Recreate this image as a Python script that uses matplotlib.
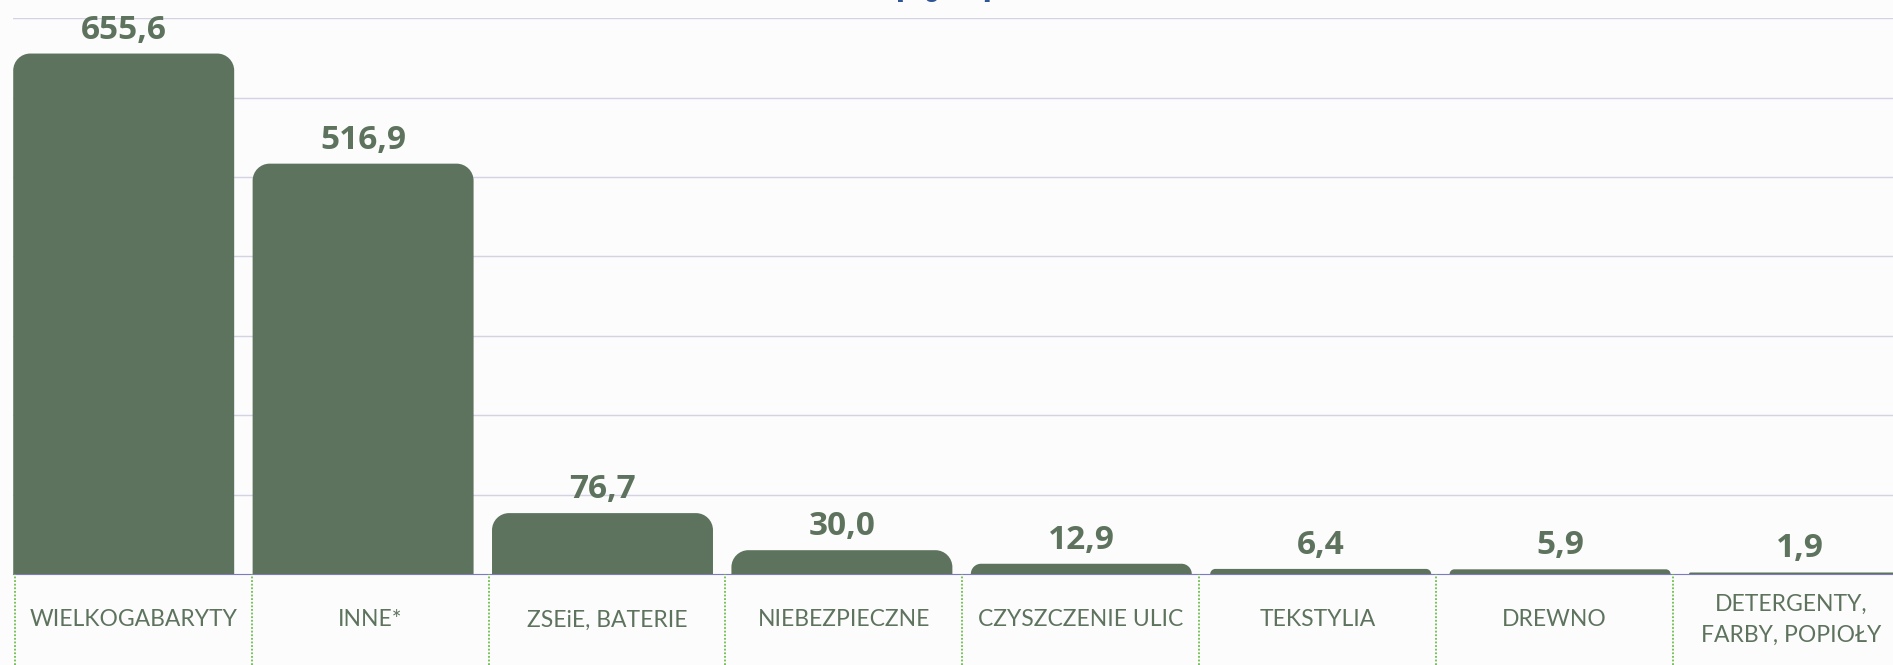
import numpy as np
import matplotlib
matplotlib.use("Agg")
import matplotlib.pyplot as plt
from matplotlib.path import Path
from matplotlib.patches import PathPatch

categories = ["WIELKOGABARYTY", "INNE*", "ZSEiE, BATERIE", "NIEBEZPIECZNE",
              "CZYSZCZENIE ULIC", "TEKSTYLIA", "DREWNO", "DETERGENTY,\nFARBY, POPIOŁY"]
values = [655.6, 516.9, 76.7, 30.0, 12.9, 6.4, 5.9, 1.9]
title = "[Mg/rok]"

green = "#5E735E"
grid_col = "#D3D3E3"
bg = "#FCFCFC"

W, H, DPI = 1893, 665, 100
plt.rcParams['font.family'] = ['Lato', 'DejaVu Sans']

fig = plt.figure(figsize=(W / DPI, H / DPI), dpi=DPI, facecolor=bg)

## main chart axes, placed in pixel terms
ax_left, ax_top, ax_bottom = 13.3, 18.3, 574.0
ax = fig.add_axes([ax_left / W, (H - ax_bottom) / H, 1 - ax_left / W, (ax_bottom - ax_top) / H])
ax.set_facecolor(bg)
ax.set_ylim(0, 700)
ax.set_xlim((ax_left - 123.7) / 239.4, (W - 123.7) / 239.4)
ax.set_yticks(np.arange(100, 701, 100))
ax.yaxis.grid(True, color=grid_col, lw=1.0)
ax.set_axisbelow(True)
ax.set_xticks([])
ax.tick_params(left=False, labelleft=False)
for s in ["left", "right", "top"]:
    ax.spines[s].set_visible(False)
ax.spines["bottom"].set_color("#7B7BC0")
ax.spines["bottom"].set_linewidth(0.8)

## pixel size of a data unit, for the rounded corners
x0, x1 = ax.get_xlim()
px_x = (W - ax_left) / (x1 - x0)
px_y = (ax_bottom - ax_top) / 700.0

bar_w = 0.923
k = 0.5523
for i, v in enumerate(values):
    h_px = v * px_y
    r = min(17.0, h_px)
    rx, ry = r / px_x, r / px_y
    xl, xr = i - bar_w / 2, i + bar_w / 2
    verts = [(xl, 0), (xl, v - ry),
             (xl, v - ry + k * ry), (xl + rx - k * rx, v), (xl + rx, v),
             (xr - rx, v),
             (xr - rx + k * rx, v), (xr, v - ry + k * ry), (xr, v - ry),
             (xr, 0), (xl, 0)]
    codes = [Path.MOVETO, Path.LINETO,
             Path.CURVE4, Path.CURVE4, Path.CURVE4,
             Path.LINETO,
             Path.CURVE4, Path.CURVE4, Path.CURVE4,
             Path.LINETO, Path.CLOSEPOLY]
    ax.add_patch(PathPatch(Path(verts, codes), facecolor=green, edgecolor="none", zorder=3))
    ax.annotate(f"{v:.1f}".replace(".", ","), (i, v), xytext=(0, 10.8),
                textcoords="offset points", ha="center", va="baseline",
                fontsize=24, fontweight="bold", color=green, annotation_clip=False,
                family=["Open Sans", "DejaVu Sans"])

## label strip below the axis, with its own cells
lab = fig.add_axes([0, 0, 1, (H - ax_bottom) / H])
lab.set_facecolor("none")
lab.set_xlim((0 - 15) / 236.8, (W - 15) / 236.8)
lab.set_ylim(0, 1)
lab.axis("off")
for j in range(len(categories) + 1):
    lab.axvline(j, color="#6DBE4B", lw=1.3, ls=(0, (1, 1)))
for j, c in enumerate(categories):
    lab.text(j + 0.5, (H - 620) / (H - ax_bottom), c, ha="center", va="center",
             multialignment="center", fontsize=16.5, color=green, linespacing=1.55)

fig.text(944 / W, (H + 2) / H, title, ha="center", va="baseline",
         fontsize=17, fontweight="bold", color="#2F5597")

fig.savefig("out.png", dpi=DPI, facecolor=bg)
